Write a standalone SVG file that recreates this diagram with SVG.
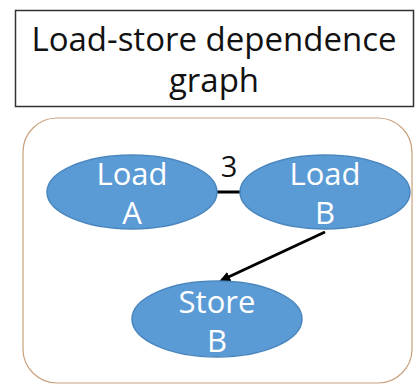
<svg xmlns="http://www.w3.org/2000/svg" width="416" height="388" viewBox="0 0 416 388">
  <defs>
    <style>
      .title { font-family: "Open Sans", "Noto Sans", sans-serif; font-size: 33px; fill: #111; text-anchor: middle; }
      .node ellipse { fill: #5B9BD5; stroke: #4A86BE; stroke-width: 1.5; }
      .node text { font-family: "Open Sans", "Noto Sans", sans-serif; font-size: 31px; fill: #fff; text-anchor: middle; }
      .edge { stroke: #000; stroke-width: 3; fill: none; }
      .weight { font-family: "Open Sans", "Noto Sans", sans-serif; font-size: 29px; fill: #111; text-anchor: middle; }
    </style>
    <marker id="arrow" markerWidth="11" markerHeight="10" refX="8" refY="5" orient="auto" markerUnits="userSpaceOnUse">
      <path d="M0,0 L11,5 L0,10 Z" fill="#000"/>
    </marker>
  </defs>

  <rect width="416" height="388" fill="#fff"/>

  <!-- title box -->
  <g id="title">
    <rect x="15.5" y="10.5" width="398" height="96" fill="#fff" stroke="#333" stroke-width="1.5"/>
    <text class="title" x="214" y="51">Load-store dependence</text>
    <text class="title" x="214" y="92">graph</text>
  </g>

  <!-- container -->
  <rect id="frame" x="23" y="118" width="389" height="265" rx="34" ry="34" fill="#fff" stroke="#C9A27E" stroke-width="1.2"/>

  <!-- connectors -->
  <g id="connectors">
    <line class="edge" x1="216" y1="192" x2="241" y2="192"/>
    <text class="weight" x="229" y="177">3</text>
    <line class="edge" x1="325" y1="232" x2="222" y2="280" marker-end="url(#arrow)"/>
  </g>

  <!-- nodes -->
  <g id="loadA" class="node">
    <ellipse cx="132" cy="192" rx="85" ry="37"/>
    <text x="132" y="185">Load</text>
    <text x="132" y="224">A</text>
  </g>
  <g id="loadB" class="node">
    <ellipse cx="325" cy="192" rx="85" ry="37"/>
    <text x="325" y="185">Load</text>
    <text x="325" y="224">B</text>
  </g>
  <g id="storeB" class="node">
    <ellipse cx="217" cy="319" rx="85" ry="38"/>
    <text x="217" y="313">Store</text>
    <text x="217" y="352">B</text>
  </g>
</svg>
